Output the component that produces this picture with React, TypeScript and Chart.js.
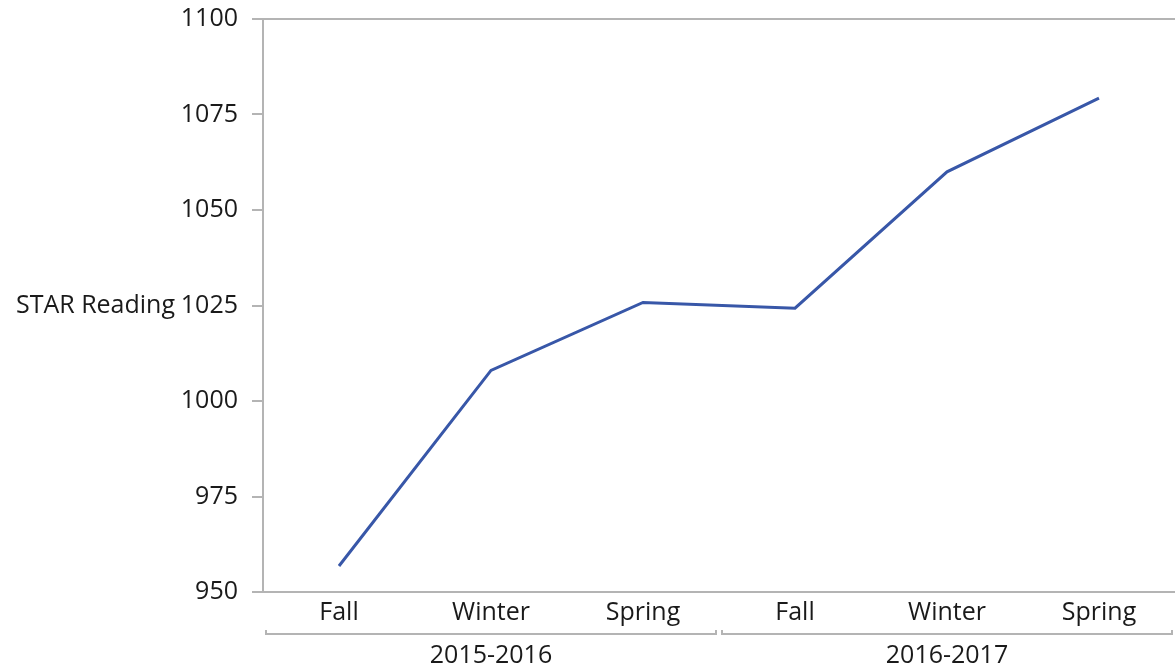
import React, { useEffect, useRef } from "react";
import { Chart, registerables } from "chart.js";

Chart.register(...registerables);

const categories = ["Fall", "Winter", "Spring", "Fall", "Winter", "Spring"];
const groups = ["2015-2016", "2016-2017"];
const groupSize = 3;
const starReading = [956.8, 1008, 1025.8, 1024.3, 1060, 1079.3];
const yTitle = "STAR Reading";
const yMin = 950;
const yMax = 1100;
const yStep = 25;

const FONT = "'Open Sans', 'Noto Sans', sans-serif";
const FONT_SIZE = 25;
const AXIS_GRAY = "#b4b4b4";
const TEXT = "#1a1a1a";

const extrasPlugin = {
  id: "extras",
  afterDraw(chart: any) {
    const { ctx, chartArea, scales } = chart;
    const x = scales.x;
    const y = scales.y;
    ctx.save();
    ctx.font = `${FONT_SIZE}px ${FONT}`;
    ctx.fillStyle = TEXT;
    ctx.textAlign = "right";
    ctx.textBaseline = "middle";
    const yMid = (y.top + y.bottom) / 2;
    ctx.fillText(yTitle, 175, yMid);

    const step = x.getPixelForValue(1) - x.getPixelForValue(0);
    const by = chartArea.bottom + 42;
    ctx.strokeStyle = AXIS_GRAY;
    ctx.lineWidth = 2;
    groups.forEach((g, gi) => {
      const first = gi * groupSize;
      const last = first + groupSize - 1;
      const left = x.getPixelForValue(first) - step / 2 + 3;
      const right = Math.min(x.getPixelForValue(last) + step / 2 - 3, chart.width);
      ctx.beginPath();
      ctx.moveTo(left, by - 4);
      ctx.lineTo(left, by);
      ctx.lineTo(right, by);
      if (right < chart.width - 1) ctx.lineTo(right, by - 4);
      ctx.stroke();
      ctx.fillStyle = TEXT;
      ctx.textAlign = "center";
      ctx.textBaseline = "middle";
      ctx.fillText(g, (x.getPixelForValue(first) + x.getPixelForValue(last)) / 2, by + 22);
    });
    ctx.restore();
  },
};

export default function App() {
  const canvasRef = useRef<HTMLCanvasElement | null>(null);

  useEffect(() => {
    document.body.style.margin = "0";
    const canvas = canvasRef.current;
    if (!canvas) return;
    const chart = new Chart(canvas, {
      type: "line",
      data: {
        labels: categories,
        datasets: [
          {
            label: yTitle,
            data: starReading,
            borderColor: "#3857a8",
            borderWidth: 3,
            pointRadius: 0,
            tension: 0,
            fill: false,
          },
        ],
      },
      options: {
        responsive: false,
        animation: false,
        layout: { padding: 0 },
        plugins: {
          legend: { display: false },
          tooltip: { enabled: false },
        },
        scales: {
          x: {
            offset: true,
            grid: { display: false, drawTicks: false },
            border: { display: true, color: AXIS_GRAY, width: 2 },
            ticks: {
              color: TEXT,
              font: { family: FONT, size: FONT_SIZE },
              padding: 6,
              maxRotation: 0,
              autoSkip: false,
            },
            afterFit: (s: any) => {
              s.height = 75;
              s.paddingLeft = 0;
              s.paddingRight = 0;
            },
          },
          y: {
            min: yMin,
            max: yMax,
            grid: {
              color: (c: any) => (c.tick && c.tick.value === yMax ? AXIS_GRAY : "rgba(0,0,0,0)"),
              lineWidth: 2,
              tickColor: AXIS_GRAY,
              tickLength: 11,
              drawTicks: true,
            },
            border: { display: true, color: AXIS_GRAY, width: 2 },
            ticks: {
              stepSize: yStep,
              color: TEXT,
              font: { family: FONT, size: FONT_SIZE },
              padding: 14,
              callback: (v: any) => String(v),
            },
            afterFit: (s: any) => {
              s.width = 263;
              s.paddingTop = 19;
              s.paddingBottom = 0;
            },
          },
        },
      },
      plugins: [extrasPlugin],
    });
    return () => chart.destroy();
  }, []);

  return (
    <div style={{ width: 1175, height: 667 }}>
      <canvas ref={canvasRef} width={1175} height={667} style={{ display: "block" }} />
    </div>
  );
}
